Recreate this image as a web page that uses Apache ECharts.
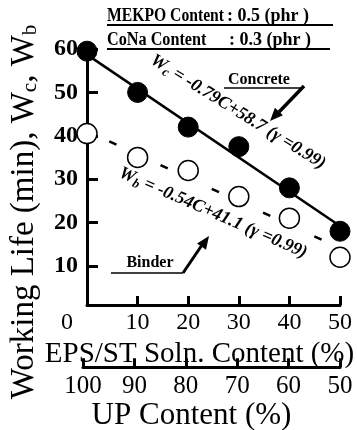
<!DOCTYPE html>
<html>
<head>
<meta charset="utf-8">
<script src="https://cdn.jsdelivr.net/npm/echarts@6/dist/echarts.min.js"></script>
<style>
  html, body { margin: 0; padding: 0; background: #fff; }
  #chart { width: 357px; height: 430px; }
</style>
</head>
<body>
<div id="chart"></div>
<script>
// EPS/ST solution content (%)
const content = [0, 10, 20, 30, 40, 50];
// working life (min)
const concrete = [59.5, 50, 42, 37.5, 28, 18];
const binder = [40.5, 35, 32, 26, 21, 12];
// regression lines, evaluated at the two ends
const fitX = [0, 50];
const fitConcrete = [58.7, 19.2];
const fitBinder = [41.1, 14.1];
const yTicks = [10, 20, 30, 40, 50, 60];

const serif = '"Liberation Serif", "Times New Roman", serif';
const pair = (xs, ys) => xs.map((x, i) => [x, ys[i]]);

const chart = echarts.init(document.getElementById('chart'));

const axisBase = {
  axisLine: { lineStyle: { color: '#000', width: 3 } },
  axisTick: { inside: true, length: 9, lineStyle: { color: '#000', width: 3 } },
  splitLine: { show: false },
};

const arrowHead = (x, y, ang) => {
  // filled triangle pointing along ang (radians)
  const L = 13, W = 5.5;
  const bx = x - L * Math.cos(ang), by = y - L * Math.sin(ang);
  const px = -Math.sin(ang) * W, py = Math.cos(ang) * W;
  return {
    type: 'polygon',
    shape: { points: [[x, y], [bx + px, by + py], [bx - px, by - py]] },
    style: { fill: '#000' },
  };
};

const eqRich = {
  i: { font: `italic bold 18px ${serif}`, fill: '#000' },
  s: { font: `italic bold 13px ${serif}`, fill: '#000', padding: [9, 0, 0, 0] },
};

const headText = (x, y, text, sx) => ({
  type: 'text', x, y, scaleX: sx,
  style: { text, font: `bold 18px ${serif}`, fill: '#000', textVerticalAlign: 'middle' },
});

chart.setOption({
  animation: false,
  backgroundColor: '#fff',
  grid: [
    { left: 83, right: 17, top: 49, height: 256 },
    { left: 83, right: 17, top: 367, height: 1 },
  ],
  xAxis: [
    {
      ...axisBase,
      type: 'value', gridIndex: 0, min: 0, max: 50, interval: 10,
      axisLabel: {
        color: '#000', fontFamily: serif, fontSize: 24, margin: 6,
        formatter: (v) => (v === 0 ? '{z|0}' : String(v)),
        rich: { z: { fontFamily: serif, fontSize: 24, color: '#000', padding: [0, 40, 0, 0] } },
      },
      name: 'EPS/ST Soln. Content (%)',
      nameLocation: 'middle', nameGap: 28,
      nameTextStyle: { color: '#000', fontFamily: serif, fontSize: 29, padding: [0, 28, 0, 0] },
    },
    {
      ...axisBase,
      type: 'value', gridIndex: 1, min: 50, max: 100, interval: 10, inverse: true,
      position: 'bottom',
      axisLabel: { color: '#000', fontFamily: serif, fontSize: 25, margin: 7 },
      name: 'UP Content (%)',
      nameLocation: 'middle', nameGap: 23,
      nameTextStyle: { color: '#000', fontFamily: serif, fontSize: 31, padding: [0, 40, 0, 0] },
    },
  ],
  yAxis: [
    {
      ...axisBase,
      type: 'value', gridIndex: 0, min: 1, max: 60,
      axisTick: { inside: true, length: 11, lineStyle: { color: '#000', width: 3 }, customValues: yTicks },
      axisLabel: {
        color: '#000', fontFamily: serif, fontSize: 24, fontWeight: 'bold', margin: 9,
        customValues: yTicks,
      },
      name: 'Working Life (min), W{s|c}, W{s|b}',
      nameLocation: 'middle', nameGap: 46,
      nameTextStyle: {
        color: '#000', fontFamily: serif, fontSize: 33, padding: [0, 70, 0, 0],
        rich: { s: { fontFamily: serif, fontSize: 21, color: '#000', padding: [12, 0, 0, 0] } },
      },
    },
    { type: 'value', gridIndex: 1, show: false, min: 0, max: 1 },
  ],
  series: [
    {
      type: 'line', xAxisIndex: 0, yAxisIndex: 0, data: pair(fitX, fitConcrete),
      symbol: 'none', lineStyle: { color: '#000', width: 2.5 }, z: 2,
    },
    {
      type: 'line', xAxisIndex: 0, yAxisIndex: 0, data: pair(fitX, fitBinder),
      symbol: 'none', lineStyle: { color: '#000', width: 2.5, type: [8, 48.5], dashOffset: 32 }, z: 2,
    },
    {
      type: 'scatter', xAxisIndex: 0, yAxisIndex: 0, data: pair(content, concrete),
      symbol: 'circle', symbolSize: 20, clip: false,
      itemStyle: { color: '#000', borderColor: '#000', borderWidth: 1, opacity: 1 }, z: 3,
    },
    {
      type: 'scatter', xAxisIndex: 0, yAxisIndex: 0, data: pair(content, binder),
      symbol: 'circle', symbolSize: 20, clip: false,
      itemStyle: { color: '#fff', borderColor: '#000', borderWidth: 1.5, opacity: 1 }, z: 3,
    },
  ],
  graphic: [
    // conditions box
    headText(107, 16, 'MEKPO Content', 0.87),
    headText(227, 16, ': 0.5 (phr )', 1),
    { type: 'line', shape: { x1: 107, y1: 25, x2: 333, y2: 25 }, style: { stroke: '#000', lineWidth: 2 } },
    headText(107, 40, 'CoNa Content', 0.9),
    headText(229, 40, ': 0.3 (phr )', 1),
    { type: 'line', shape: { x1: 107, y1: 49, x2: 330, y2: 49 }, style: { stroke: '#000', lineWidth: 2 } },
    // regression equations
    {
      type: 'text', x: 238, y: 112, rotation: -0.553,
      style: { text: '{i|W}{s|c}{i| = -0.79C+58.7 (γ =0.99)}', textAlign: 'center', textVerticalAlign: 'middle', rich: eqRich },
    },
    {
      type: 'text', x: 213, y: 213, rotation: -0.412,
      style: { text: '{i|W}{s|b}{i| = -0.54C+41.1 (γ =0.99)}', textAlign: 'center', textVerticalAlign: 'middle', rich: eqRich },
    },
    // Concrete label and arrow
    { type: 'text', x: 259, y: 80, style: { text: 'Concrete', font: `bold 16px ${serif}`, fill: '#000', textAlign: 'center', textVerticalAlign: 'middle' } },
    { type: 'line', shape: { x1: 224, y1: 88, x2: 301, y2: 88 }, style: { stroke: '#000', lineWidth: 1.3 } },
    { type: 'line', shape: { x1: 304, y1: 86, x2: 279, y2: 112 }, style: { stroke: '#000', lineWidth: 3.5 } },
    arrowHead(270, 121, Math.atan2(35, -33)),
    // Binder label and arrow
    { type: 'text', x: 150, y: 263, style: { text: 'Binder', font: `bold 16px ${serif}`, fill: '#000', textAlign: 'center', textVerticalAlign: 'middle' } },
    { type: 'line', shape: { x1: 111, y1: 273, x2: 183, y2: 273 }, style: { stroke: '#000', lineWidth: 1.3 } },
    { type: 'line', shape: { x1: 183, y1: 273, x2: 202, y2: 245 }, style: { stroke: '#000', lineWidth: 3 } },
    arrowHead(209, 236, Math.atan2(-37, 26)),
  ],
});
</script>
</body>
</html>
